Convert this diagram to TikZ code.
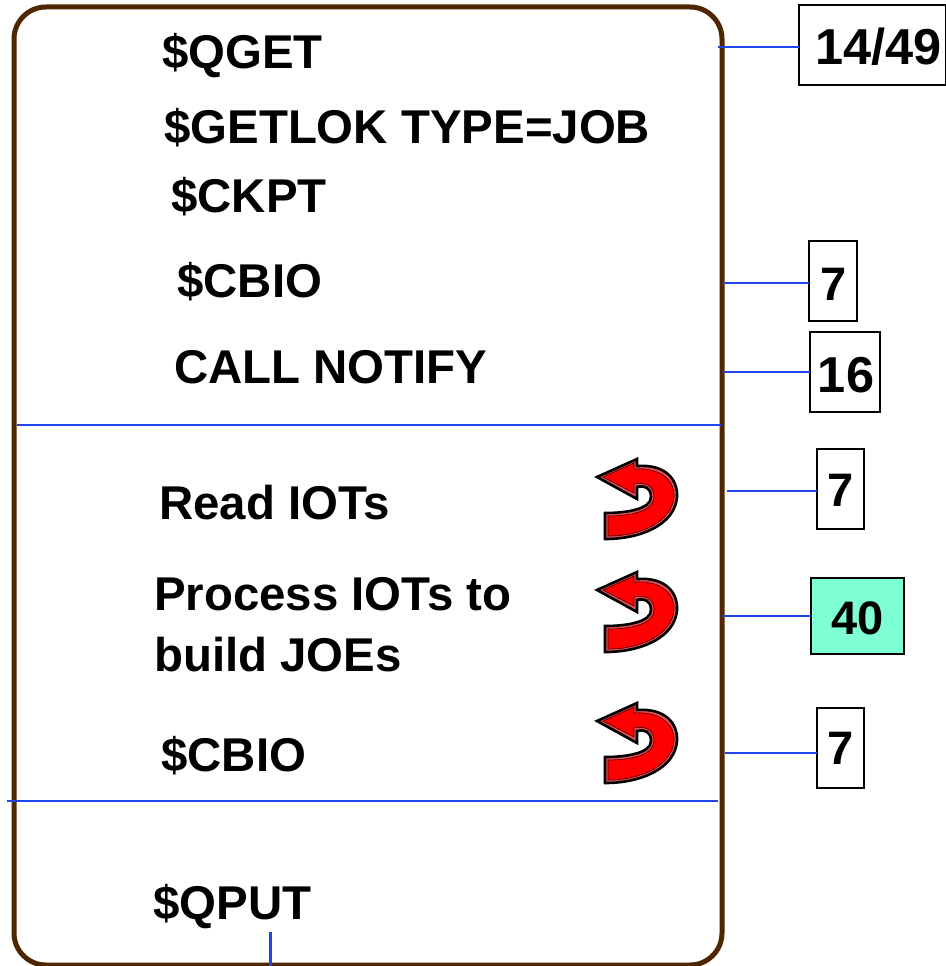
\documentclass[tikz,border=0pt]{standalone}
\usepackage{fontspec}
\setmainfont{Liberation Sans}
\definecolor{frame}{HTML}{4F2600}
\definecolor{wire}{HTML}{1F45E8}
\definecolor{tealbox}{HTML}{7FFFD4}
\definecolor{edgered}{HTML}{E8505A}
\newcommand{\lowered}[2]{\raisebox{-#1}[\height][0pt]{#2}}
\tikzset{
  x=1pt,y=-1pt,
  lab/.style={anchor=base west,inner sep=0pt,font=\fontsize{47.4}{47.4}\selectfont\bfseries},
  numbox/.style={draw=black,line width=1.4pt,fill=white,inner sep=0pt,outer sep=0pt,font=\fontsize{47}{47}\selectfont\bfseries,anchor=north west},
  bignum/.style={font=\fontsize{50.5}{50.5}\selectfont\bfseries},
  wireline/.style={draw=wire,line width=1.8pt},
  redarrow/.pic={
    \path[fill=edgered,draw=black,line width=2.6pt,line join=miter]
      (0,18) -- (40,0) -- (40,7) .. controls (68,5) and (81,20) .. (80,38)
      .. controls (78,65) and (45,80) .. (8,80) -- (8,54)
      .. controls (30,54) and (54,50) .. (54,38) .. controls (54,29) and (48,26) .. (40,28) -- (40,40) -- cycle;
    \path[fill=red,draw=black!70!red,line width=0.7pt,line join=miter]
      (6,18) -- (37,4) -- (37,10) .. controls (64,8) and (78,22) .. (77,38)
      .. controls (75,62) and (45,77) .. (11,77) -- (11,57)
      .. controls (34,57) and (57,52) .. (57,38) .. controls (57,26) and (48,23) .. (37,25) -- (37,34) -- cycle;
  }
}
\begin{document}
\begin{tikzpicture}
\useasboundingbox (0,0) rectangle (945,966);
\node[draw=frame,line width=5pt,rounded corners=32pt,outer sep=0pt,minimum width=708pt,minimum height=958pt,inner sep=0pt,anchor=north west] (panel) at (14,7) {};
\node[lab] (qget) at (162,68) {\$QGET};
\node[lab] (getlok) at (164,143) {\$GETLOK TYPE=JOB};
\node[lab] (ckpt) at (171,212) {\$CKPT};
\node[lab] (cbioa) at (177,297) {\$CBIO};
\node[lab] (notify) at (174,383) {CALL NOTIFY};
\node[lab] (read) at (159,519) {Read IOTs};
\node[lab] (proca) at (154,610) {Process IOTs to};
\node[lab] (procb) at (154,671) {build JOEs};
\node[lab] (cbiob) at (161,771) {\$CBIO};
\node[lab] (qput) at (153,919) {\$QPUT};
\pic at (597,459) {redarrow};
\pic at (597,572) {redarrow};
\pic at (597,703) {redarrow};
\node[numbox,bignum,minimum width=147pt,minimum height=80pt] (b1) at (799,5) {\hspace*{12pt}\lowered{1pt}{14/49}};
\node[numbox,minimum width=48pt,minimum height=80pt] (b2) at (809,241) {\hspace*{2pt}\lowered{3pt}{7}};
\node[numbox,bignum,minimum width=70pt,minimum height=80pt] (b3) at (810,332) {\hspace*{2pt}\lowered{3pt}{16}};
\node[numbox,minimum width=47pt,minimum height=80pt] (b4) at (817,449) {\lowered{1pt}{7}};
\node[numbox,minimum width=93pt,minimum height=76pt,fill=tealbox] (b5) at (811,578) {\lowered{2pt}{40}};
\node[numbox,minimum width=47pt,minimum height=80pt] (b6) at (817,708) {7};
\coordinate (w1) at (718,47);
\coordinate (w2) at (723,283);
\coordinate (w3) at (723,372);
\coordinate (w4) at (727,491);
\coordinate (w5) at (723,616);
\coordinate (w6) at (725,753);
\draw[wireline] (w1) -- (w1-|b1.west);
\draw[wireline] (w2) -- (w2-|b2.west);
\draw[wireline] (w3) -- (w3-|b3.west);
\draw[wireline] (w4) -- (w4-|b4.west);
\draw[wireline] (w5) -- (w5-|b5.west);
\draw[wireline] (w6) -- (w6-|b6.west);
\coordinate (d1a) at (17,425);
\coordinate (d1b) at (721,425);
\coordinate (d2a) at (7,801);
\coordinate (d2b) at (718,801);
\coordinate (va) at (270,932);
\coordinate (vb) at (270,966);
\draw[wireline] (d1a) -- (d1b);
\draw[wireline] (d2a) -- (d2b);
\draw[wireline,line width=3pt] (va) -- (vb);
\end{tikzpicture}
\end{document}
